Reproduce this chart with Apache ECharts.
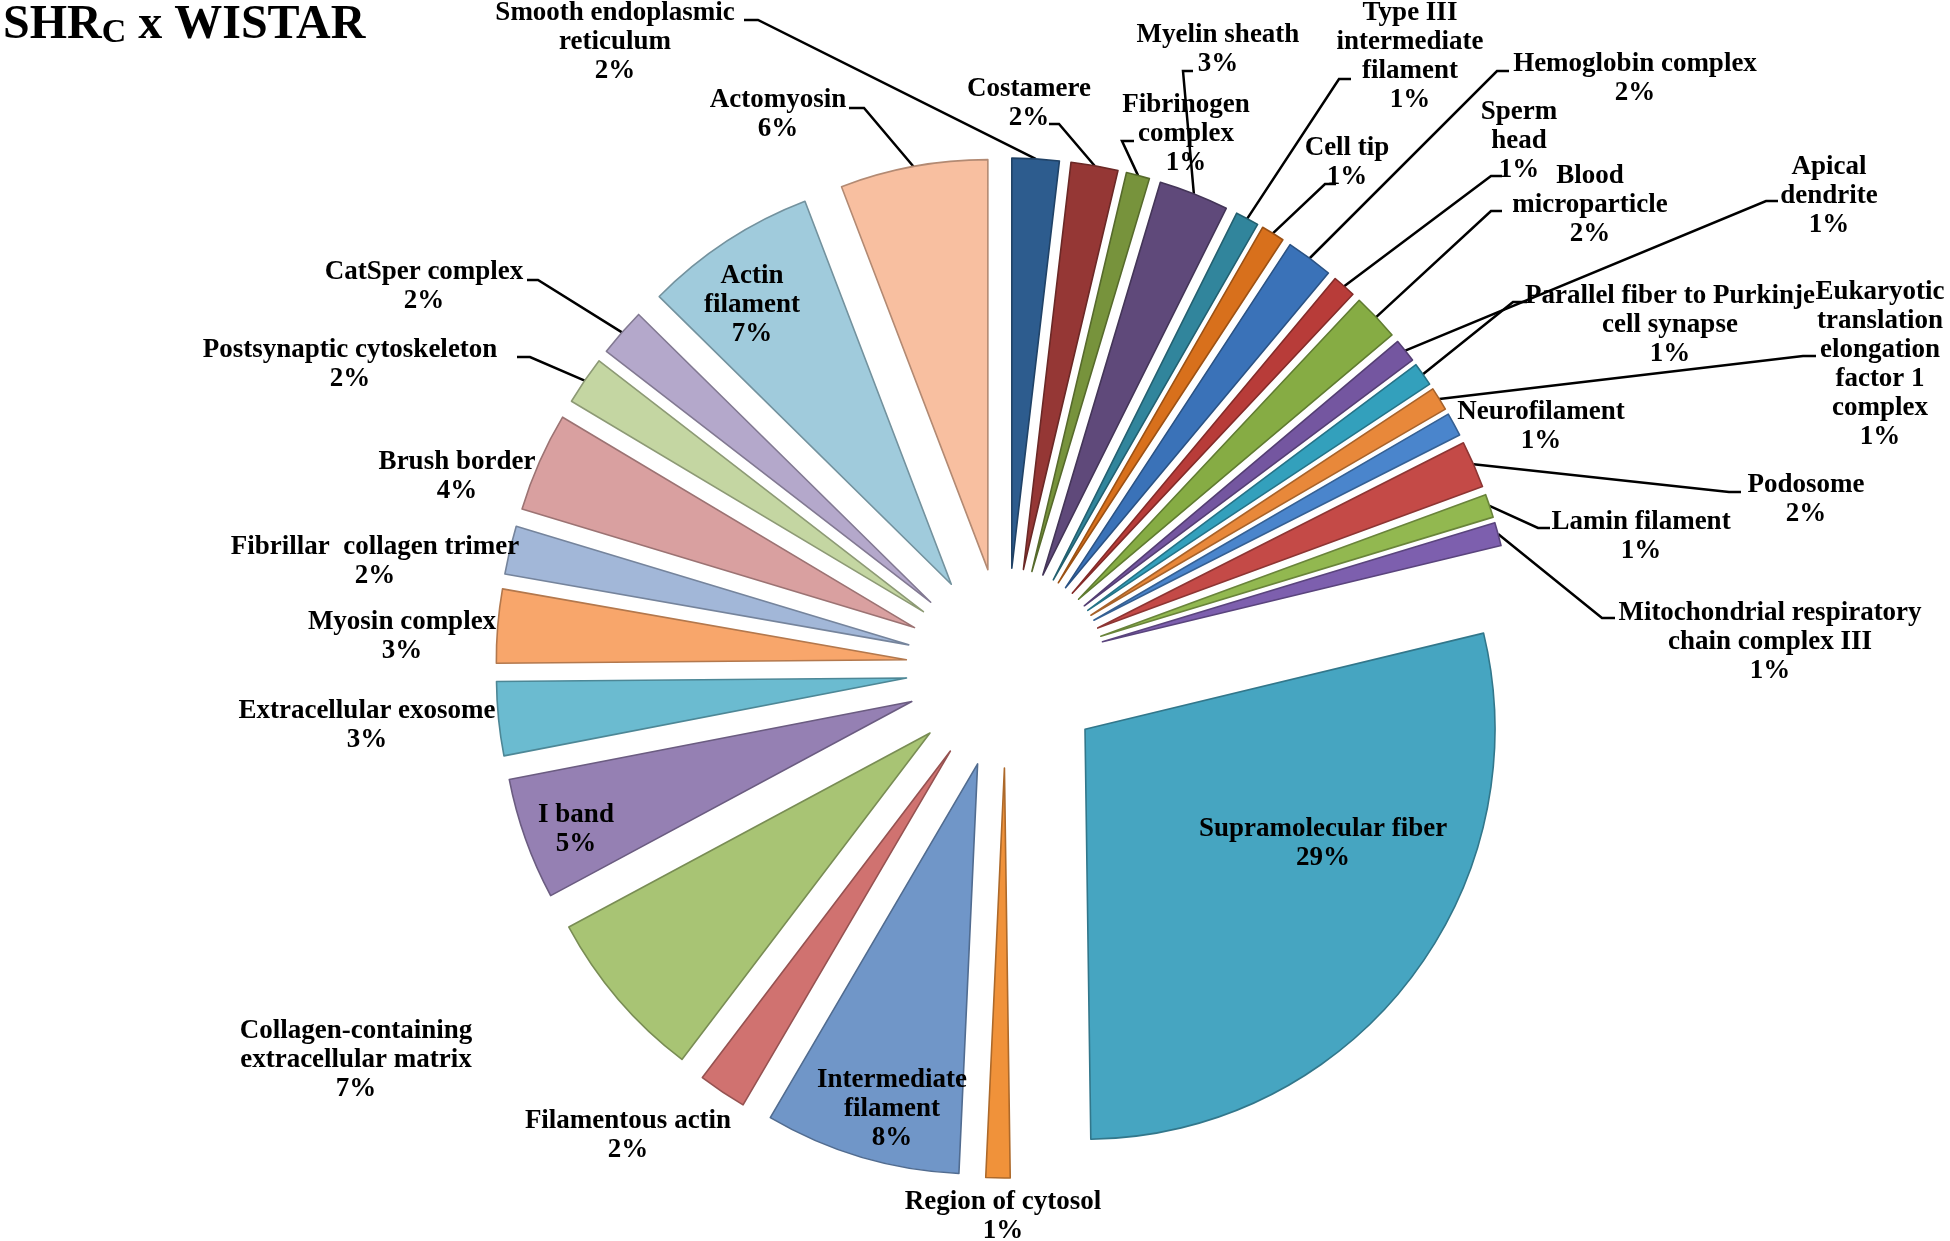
<!DOCTYPE html>
<html><head><meta charset="utf-8">
<script src="https://cdn.jsdelivr.net/npm/echarts@6/dist/echarts.min.js"></script>
<style>html,body{margin:0;padding:0;background:#fff}#c{width:1950px;height:1241px}</style>
</head><body><div id="c"></div>
<script>
// ---------- data (clockwise from 12 o'clock) ----------
const categories = [
  'Smooth endoplasmic reticulum','Costamere','Fibrinogen complex','Myelin sheath',
  'Type III intermediate filament','Cell tip','Hemoglobin complex','Sperm head',
  'Blood microparticle','Apical dendrite','Parallel fiber to Purkinje cell synapse',
  'Eukaryotic translation elongation factor 1 complex','Neurofilament','Podosome',
  'Lamin filament','Mitochondrial respiratory chain complex III','Supramolecular fiber',
  'Region of cytosol','Intermediate filament','Filamentous actin',
  'Collagen-containing extracellular matrix','I band','Extracellular exosome',
  'Myosin complex','Fibrillar  collagen trimer','Brush border','Postsynaptic cytoskeleton',
  'CatSper complex','Actin filament','Actomyosin'
];
// slice sizes (%)
const values = [1.85,1.85,0.92,2.75,0.92,0.92,1.85,0.92,1.85,0.92,0.92,0.92,0.92,1.85,0.92,0.92,
  28.5,0.95,7.7,1.9,6.8,4.8,2.9,2.9,1.9,3.9,1.9,1.9,6.8,5.8];
// percentages as printed on the labels
const percentLabels = [2,2,1,3,1,1,2,1,2,1,1,1,1,2,1,1,29,1,8,2,7,5,3,3,2,4,2,2,7,6];

// wrapped label text as printed in the figure
const labelText = [
  'Smooth endoplasmic\nreticulum','Costamere','Fibrinogen\ncomplex','Myelin sheath',
  'Type III\nintermediate\nfilament','Cell tip','Hemoglobin complex','Sperm\nhead',
  'Blood\nmicroparticle','Apical\ndendrite','Parallel fiber to Purkinje\ncell synapse',
  'Eukaryotic\ntranslation\nelongation\nfactor 1\ncomplex','Neurofilament','Podosome',
  'Lamin filament','Mitochondrial respiratory\nchain complex III','Supramolecular fiber',
  'Region of cytosol','Intermediate\nfilament','Filamentous actin',
  'Collagen-containing\nextracellular matrix','I band','Extracellular exosome',
  'Myosin complex','Fibrillar  collagen trimer','Brush border','Postsynaptic cytoskeleton',
  'CatSper complex','Actin\nfilament','Actomyosin'
];

// ---------- styles ----------
const colors = ['#2d5c8e','#953735','#77933c','#5f497a','#31859c','#d8701c','#3a72b8','#b83c39',
  '#86ac44','#7456a0','#33a0bc','#e8883a','#4a85cc','#c44a47','#92b850','#7d5fae','#46a5c1',
  '#f0923a','#7096c8','#d07270','#a8c474','#9580b3','#6bbbd0','#f8a66b','#a2b7d8','#d9a0a0',
  '#c4d6a2','#b4a8cb','#a0cbdc','#f8bfa0'];

// ---------- label layout (px) ----------
const labelCenter = [
  [615,42],[1029,104],[1186,134],[1218,50],[1410,57],[1347,163],[1635,79],[1519,141],
  [1590,205],[1829,196],[1670,325],[1880,365],[1541,427],[1806,500],[1641,537],[1770,642],
  [1323,844],[1003,1217],[892,1109],[628,1136],[356,1060],[576,830],[367,726],[402,637],
  [375,562],[457,477],[350,365],[424,287],[752,305],[778,115]
];
// leader line end at the label [x, y, tick dx]; null = no leader line
const lineAnchor = [
  [744,20,14],[1049,124,10],[1134,141,-12],[1193,71,-10],[1351,79,-12],[1336,184,-11],
  [1509,71,-12],[1502,176,-11],[1502,211,-11],[1778,201,-12],[1527,302,-14],[1816,356,-13],
  null,[1741,492,-12],[1550,528,-12],[1615,618,-13],
  null,null,null,null,null,null,null,null,null,null,
  [517,357,13],[527,280,11],null,[849,108,15]
];

const CENTER = [1006, 668];
const R = 410;
const EXPLODE = 100;

function darken(hex, f) {
  const n = parseInt(hex.slice(1), 16);
  const r = Math.round(((n >> 16) & 255) * f), g = Math.round(((n >> 8) & 255) * f), b = Math.round((n & 255) * f);
  return 'rgb(' + r + ',' + g + ',' + b + ')';
}

const sliceData = categories.map((name, i) => {
  const st = { color: colors[i], borderColor: darken(colors[i], 0.72), borderWidth: 1.6 };
  return { name: name, value: values[i], selected: true, itemStyle: st, select: { itemStyle: st } };
});

const labelData = categories.map((name, i) => ({
  name: name, value: values[i],
  labelLine: { show: !!lineAnchor[i] }
}));

const chart = echarts.init(document.getElementById('c'), null, { renderer: 'canvas' });
const FONT = '"Liberation Serif", "Times New Roman", serif';

chart.setOption({
  backgroundColor: '#ffffff',
  animation: false,
  title: {
    text: '{a|SHR}{b|C}{a| x WISTAR}',
    left: 3, top: 2, padding: 0,
    textStyle: {
      rich: {
        a: { fontFamily: FONT, fontWeight: 'bold', fontSize: 48, lineHeight: 48, color: '#000' },
        b: { fontFamily: FONT, fontWeight: 'bold', fontSize: 34, lineHeight: 40, verticalAlign: 'bottom', color: '#000' }
      }
    }
  },
  series: [
    {
      type: 'pie',
      center: CENTER,
      radius: R,
      startAngle: 90,
      clockwise: true,
      selectedMode: 'multiple',
      selectedOffset: EXPLODE,
      avoidLabelOverlap: false,
      label: { show: false },
      labelLine: { show: false },
      emphasis: { disabled: true },
      silent: true,
      data: sliceData
    },
    {
      type: 'pie',
      center: CENTER,
      radius: R + EXPLODE,
      startAngle: 90,
      clockwise: true,
      selectedMode: false,
      avoidLabelOverlap: false,
      minShowLabelAngle: 0,
      silent: true,
      emphasis: { disabled: true },
      itemStyle: { color: 'rgba(0,0,0,0)', borderWidth: 0 },
      label: {
        show: true,
        position: 'outside',
        fontFamily: FONT,
        fontWeight: 'bold',
        fontSize: 27,
        lineHeight: 29,
        color: '#000',
        align: 'center',
        formatter: p => labelText[p.dataIndex] + '\n' + percentLabels[p.dataIndex] + '%'
      },
      labelLine: { show: true, length: 5, length2: 5, lineStyle: { color: '#000', width: 2.5 } },
      labelLayout: function (p) {
        const i = p.dataIndex;
        const c = labelCenter[i];
        const res = { x: c[0], y: c[1], align: 'center', verticalAlign: 'middle', hideOverlap: false, moveOverlap: false };
        const a = lineAnchor[i];
        if (a && p.labelLinePoints) {
          const s = p.labelLinePoints[0];
          res.labelLinePoints = [[s[0], s[1]], [a[0] + a[2], a[1]], [a[0], a[1]]];
        }
        return res;
      },
      data: labelData
    }
  ]
});
</script>
</body></html>
